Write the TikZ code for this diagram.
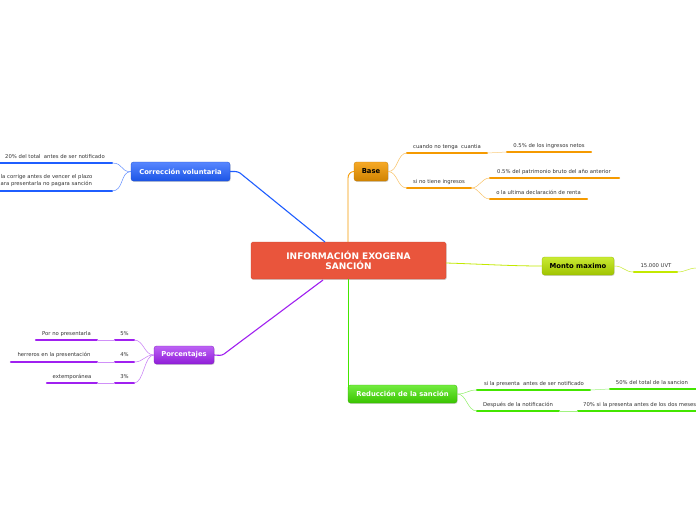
\documentclass[tikz,border=0pt]{standalone}
\usepackage{fontspec}
\setmainfont{DejaVu Sans}
\usetikzlibrary{shadows}
\definecolor{cred}{HTML}{E9553C}
\definecolor{cblue}{HTML}{1F5EFF}
\definecolor{corange}{HTML}{F59A00}
\definecolor{clime}{HTML}{BCE600}
\definecolor{cpurple}{HTML}{A020F0}
\definecolor{cgreen}{HTML}{44E600}
\definecolor{ctext}{HTML}{333333}
\tikzset{
  topic/.style={rounded corners=2.5pt, inner sep=0pt, font=\fontsize{6.8}{8}\selectfont\bfseries,
    drop shadow={shadow xshift=0.6pt, shadow yshift=-0.9pt, opacity=0.35}},
  leaf/.style={font=\fontsize{5.3}{6}\selectfont, text=ctext, inner sep=0pt},
  uline/.style={line width=2.4pt, line cap=round},
  thinc/.style={line width=0.5pt},
  mainc/.style={line width=1.1pt},
}
\begin{document}
\begin{tikzpicture}[x=1pt,y=-1pt]
\useasboundingbox (0,0) rectangle (696,520);
\fill[white] (0,0) rectangle (696,520);

% ---------- central ----------
\node[topic, fill=cred, draw=cred!85!black, line width=0.3pt, minimum width=195pt, minimum height=37pt,
  text=white, font=\fontsize{9}{10.5}\selectfont\bfseries, align=center,
  rounded corners=1.5pt] (c) at (348.5,260.5) {INFORMACIÓN EXOGENA\\SANCIÓN};

% ---------- Corrección voluntaria ----------
\node[topic, top color=cblue!75!white, bottom color=cblue!90!black, draw=cblue!80!black, line width=0.3pt,
  minimum width=99pt, minimum height=19pt, text=white] (cv) at (180.5,171.5) {Corrección voluntaria};
\coordinate (cvA) at (325,242);
\draw[mainc, cblue] (cvA) -- (240,173) to[out=150,in=0] (cv.east);

\node[leaf, anchor=base] (cv1) at (55,158) {20\% del total \ antes de ser notificado};
\coordinate (cv1s) at (-5,163); \coordinate (cv1e) at (112,163);
\draw[uline, cblue] (cv1s) -- (cv1e);
\node[leaf, anchor=north west, align=left, font=\fontsize{5.3}{7}\selectfont] (cv2) at (0.5,174.5) {la corrige antes de vencer el plazo\\[-0.4pt]ara presentarla no pagara sanción};
\coordinate (cv2s) at (-5,191); \coordinate (cv2e) at (112,191);
\draw[uline, cblue] (cv2s) -- (cv2e);
\draw[thinc, cblue!70!white] (cv.west) .. controls (120,172) and (124,163) .. (cv1e);
\draw[thinc, cblue!70!white] (cv.west) .. controls (120,172) and (124,191) .. (cv2e);

% ---------- Base ----------
\node[topic, top color=corange!85!white, bottom color=corange!85!black, draw=corange!80!black, line width=0.3pt,
  minimum width=34pt, minimum height=19pt, text=black] (b) at (371,171.5) {Base};
\coordinate (bA) at (348,242);
\draw[line width=0.9pt, corange] (bA) -- (348,178) to[out=90,in=180] (b.west);

\node[leaf, anchor=base] (b1) at (447,148) {cuando no tenga \ cuantia};
\coordinate (b1s) at (407,153); \coordinate (b1e) at (487,153);
\draw[uline, corange] (b1s) -- (b1e);
\node[leaf, anchor=base] (b1a) at (549,147) {0.5\% de los ingresos netos};
\coordinate (b1as) at (507,152); \coordinate (b1ae) at (591,152);
\draw[uline, corange] (b1as) -- (b1ae);
\draw[thinc, corange!50!white] (b1e) -- (b1as);

\node[leaf, anchor=base] (b2) at (439,183) {si no tiene ingresos};
\coordinate (b2s) at (407,188); \coordinate (b2e) at (471,188);
\draw[uline, corange] (b2s) -- (b2e);
\node[leaf, anchor=base] (b2a) at (554,173) {0.5\% del patrimonio bruto del año anterior};
\coordinate (b2as) at (490,178); \coordinate (b2ae) at (619,178);
\draw[uline, corange] (b2as) -- (b2ae);
\node[leaf, anchor=base] (b2b) at (538.5,194) {o la ultima declaración de renta};
\coordinate (b2bs) at (490,199); \coordinate (b2be) at (587,199);
\draw[uline, corange] (b2bs) -- (b2be);

\draw[thinc, corange!60!white] (b.east) .. controls (398,172) and (397,153) .. (b1s);
\draw[thinc, corange!60!white] (b.east) .. controls (398,172) and (397,188) .. (b2s);
\draw[thinc, corange!60!white] (b2e) .. controls (480,188) and (481,178) .. (b2as);
\draw[thinc, corange!60!white] (b2e) .. controls (480,188) and (481,199) .. (b2bs);

% ---------- Monto maximo ----------
\node[topic, top color=clime!80!white, bottom color=clime!85!black, draw=clime!80!black, line width=0.3pt,
  minimum width=72pt, minimum height=18pt, text=black] (m) at (578,266) {Monto maximo};
\coordinate (mA) at (446,263);
\draw[line width=0.8pt, clime!90!yellow] (mA) .. controls (480,264) and (510,266) .. (m.west);
\node[leaf, anchor=base] (m1) at (656,267) {15.000 UVT};
\coordinate (m1s) at (634,272); \coordinate (m1e) at (677,272);
\draw[uline, clime!90!yellow] (m1s) -- (m1e);
\draw[thinc, clime!80!white] (m.east) .. controls (624,266) and (624,272) .. (m1s);
\coordinate (m1x) at (697,268);
\draw[thinc, clime!80!white] (m1e) .. controls (686,272) and (688,268) .. (m1x);

% ---------- Porcentajes ----------
\node[topic, top color=cpurple!70!white, bottom color=cpurple!90!black, draw=cpurple!80!black, line width=0.3pt,
  minimum width=60pt, minimum height=18pt, text=white] (p) at (184,355) {Porcentajes};
\coordinate (pA) at (323,280);
\draw[mainc, cpurple] (pA) -- (224,354) to[out=-145,in=0] (p.east);

\node[leaf, anchor=base] (p1) at (124.5,335) {5\%};
\coordinate (p1s) at (115,340); \coordinate (p1e) at (134,340);
\draw[uline, cpurple] (p1s) -- (p1e);
\node[leaf, anchor=base] (p1a) at (66.5,335) {Por no presentarla};
\coordinate (p1as) at (36,340); \coordinate (p1ae) at (97,340);
\draw[uline, cpurple] (p1as) -- (p1ae);
\draw[thinc, cpurple!50!white] (p1s) -- (p1ae);

\node[leaf, anchor=base] (p2) at (124.5,356) {4\%};
\coordinate (p2s) at (115,362); \coordinate (p2e) at (134,362);
\draw[uline, cpurple] (p2s) -- (p2e);
\node[leaf, anchor=base] (p2a) at (54,356) {herreros en la presentación};
\coordinate (p2as) at (11,362); \coordinate (p2ae) at (97,362);
\draw[uline, cpurple] (p2as) -- (p2ae);
\draw[thinc, cpurple!50!white] (p2s) -- (p2ae);

\node[leaf, anchor=base] (p3) at (124.5,378) {3\%};
\coordinate (p3s) at (115,383); \coordinate (p3e) at (134,383);
\draw[uline, cpurple] (p3s) -- (p3e);
\node[leaf, anchor=base] (p3a) at (72,378) {extemporánea};
\coordinate (p3as) at (47,383); \coordinate (p3ae) at (97,383);
\draw[uline, cpurple] (p3as) -- (p3ae);
\draw[thinc, cpurple!50!white] (p3s) -- (p3ae);

\draw[thinc, cpurple!60!white] (p.west) .. controls (144,355) and (144,340) .. (p1e);
\draw[thinc, cpurple!60!white] (p.west) .. controls (144,355) and (144,362) .. (p2e);
\draw[thinc, cpurple!60!white] (p.west) .. controls (144,355) and (144,383) .. (p3e);

% ---------- Reducción de la sanción ----------
\node[topic, top color=cgreen!75!white, bottom color=cgreen!85!black, draw=cgreen!80!black, line width=0.3pt,
  minimum width=109pt, minimum height=18pt, text=white] (r) at (402.5,394) {Reducción de la sanción};
\coordinate (rA) at (348.5,279);
\coordinate (rB) at (348.5,390);
\draw[line width=0.9pt, cgreen] (rA) -- (rB);

\node[leaf, anchor=base] (r1) at (534,385) {si la presenta \ antes de ser notificado};
\coordinate (r1s) at (477,390); \coordinate (r1e) at (590,390);
\draw[uline, cgreen] (r1s) -- (r1e);
\node[leaf, anchor=base] (r1a) at (652,384) {50\% del total de la sancion};
\coordinate (r1as) at (610,389); \coordinate (r1ae) at (698,389);
\draw[uline, cgreen] (r1as) -- (r1ae);
\draw[thinc, cgreen!50!white] (r1e) -- (r1as);

\node[leaf, anchor=base] (r2) at (518,406) {Después de la notificación};
\coordinate (r2s) at (477,411); \coordinate (r2e) at (559,411);
\draw[uline, cgreen] (r2s) -- (r2e);
\node[leaf, anchor=base west] (r2a) at (583,406) {70\% si la presenta antes de los dos meses};
\coordinate (r2as) at (578,411); \coordinate (r2ae) at (700,411);
\draw[uline, cgreen] (r2as) -- (r2ae);
\draw[thinc, cgreen!50!white] (r2e) -- (r2as);

\draw[thinc, cgreen!60!white] (r.east) .. controls (467,394) and (467,390) .. (r1s);
\draw[thinc, cgreen!60!white] (r.east) .. controls (467,394) and (467,411) .. (r2s);
\end{tikzpicture}
\end{document}
